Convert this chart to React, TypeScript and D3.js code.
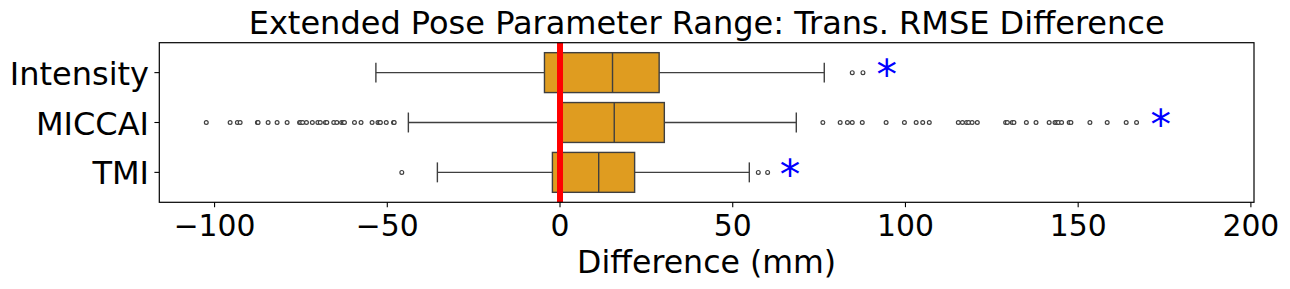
import { useEffect, useRef } from 'react';
import * as d3 from 'd3';

const categories = ['Intensity', 'MICCAI', 'TMI'];

// box stats: [whiskerLow, q1, median, q3, whiskerHigh]
const intensityStats = [-53.3, -4.5, 15.2, 28.7, 76.5];
const miccaiStats = [-43.9, 0.3, 15.7, 30.2, 68.4];
const tmiStats = [-35.5, -2.2, 11.2, 21.6, 54.8];

const intensityOutliers = [84.6, 87.7];
const miccaiOutliers = [
  -102.4, -95.5, -93.4, -92.6, -87.6, -87.4, -84.5, -81.9, -79.0, -75.4, -75.1, -74.5,
  -73.4, -71.7, -70.1, -69.4, -67.9, -67.5, -65.5, -64.6, -63.2, -62.7, -62.4, -59.5,
  -57.6, -54.4, -52.7, -52.2, -52.0, -50.3, -48.2, -48.0,
  76.1, 81.1, 83.2, 84.6, 87.5, 94.4, 99.7, 103.1, 105.0, 106.9, 115.3, 116.5, 117.7,
  118.3, 119.3, 120.8, 129.0, 129.5, 130.9, 131.4, 135.0, 137.8, 141.6, 143.3, 143.8,
  144.3, 145.2, 147.4, 147.9, 153.4, 158.4, 163.9, 166.9,
];
const tmiOutliers = [-45.8, 57.4, 60.1];

// position of the significance star per row
const starPositions = [94.6, 173.9, 66.6];

const xTicks = [-100, -50, 0, 50, 100, 150, 200];

const rows = [
  { name: categories[0], stats: intensityStats, outliers: intensityOutliers, star: starPositions[0] },
  { name: categories[1], stats: miccaiStats, outliers: miccaiOutliers, star: starPositions[1] },
  { name: categories[2], stats: tmiStats, outliers: tmiOutliers, star: starPositions[2] },
];

const App = () => {
  const svgRef = useRef<SVGSVGElement>(null);

  useEffect(() => {
    if (!svgRef.current) return;
    const width = 1290;
    const height = 289;
    const margin = { left: 159.3, right: 1254, top: 42.7, bottom: 202.3 };
    const font = 'DejaVu Sans, sans-serif';
    const boxFill = '#df9c20';
    const lineCol = '#3f3f3f';

    const svg = d3.select(svgRef.current).attr('width', width).attr('height', height);
    svg.selectAll('*').remove();

    const x = d3.scaleLinear().domain([-116, 200.9]).range([margin.left, margin.right]);
    const y = d3.scaleBand().domain(categories).range([margin.top, margin.bottom]).padding(0.2);
    const bw = y.bandwidth();

    const g = svg.append('g');

    rows.forEach(r => {
      const cy = y(r.name)! + bw / 2;
      const [lo, q1, med, q3, hi] = r.stats;
      // whiskers
      g.append('line').attr('x1', x(lo)).attr('x2', x(q1)).attr('y1', cy).attr('y2', cy)
        .attr('stroke', lineCol).attr('stroke-width', 1.4);
      g.append('line').attr('x1', x(q3)).attr('x2', x(hi)).attr('y1', cy).attr('y2', cy)
        .attr('stroke', lineCol).attr('stroke-width', 1.4);
      // caps
      [lo, hi].forEach(v => {
        g.append('line').attr('x1', x(v)).attr('x2', x(v))
          .attr('y1', cy - bw / 4).attr('y2', cy + bw / 4)
          .attr('stroke', lineCol).attr('stroke-width', 1.4);
      });
      // box
      g.append('rect').attr('x', x(q1)).attr('y', y(r.name)!).attr('width', x(q3) - x(q1)).attr('height', bw)
        .attr('fill', boxFill).attr('stroke', lineCol).attr('stroke-width', 1.4);
      g.append('line').attr('x1', x(med)).attr('x2', x(med)).attr('y1', y(r.name)!).attr('y2', y(r.name)! + bw)
        .attr('stroke', lineCol).attr('stroke-width', 1.4);
      // fliers
      g.selectAll(null).data(r.outliers).join('circle')
        .attr('cx', d => x(d)).attr('cy', cy).attr('r', 1.9)
        .attr('fill', 'white').attr('stroke', lineCol).attr('stroke-width', 1.2);
      // star
      const fs = 41;
      g.append('text').attr('x', x(r.star)).attr('y', cy + 16.5)
        .attr('text-anchor', 'middle').attr('font-family', font).attr('font-size', fs)
        .attr('fill', 'blue').text('*');
    });

    // red zero line
    g.append('line').attr('x1', x(0)).attr('x2', x(0)).attr('y1', margin.top).attr('y2', margin.bottom)
      .attr('stroke', 'red').attr('stroke-width', 6);

    // frame
    svg.append('rect').attr('x', margin.left).attr('y', margin.top)
      .attr('width', margin.right - margin.left).attr('height', margin.bottom - margin.top)
      .attr('fill', 'none').attr('stroke', 'black').attr('stroke-width', 1.2);

    // x axis
    const xa = svg.append('g');
    xTicks.forEach(t => {
      xa.append('line').attr('x1', x(t)).attr('x2', x(t)).attr('y1', margin.bottom).attr('y2', margin.bottom + 4.9)
        .attr('stroke', 'black').attr('stroke-width', 1.1);
      xa.append('text').attr('x', x(t)).attr('y', 235.7).attr('text-anchor', 'middle')
        .attr('font-family', font).attr('font-size', 29.8)
        .text(t < 0 ? '\u2212' + Math.abs(t) : String(t));
    });

    // y axis
    categories.forEach(c => {
      const cy = y(c)! + bw / 2;
      svg.append('line').attr('x1', margin.left - 4.9).attr('x2', margin.left).attr('y1', cy).attr('y2', cy)
        .attr('stroke', 'black').attr('stroke-width', 1.1);
      svg.append('text').attr('x', 149).attr('y', cy + 12).attr('text-anchor', 'end')
        .attr('font-family', font).attr('font-size', 32).text(c);
    });

    svg.append('text').attr('x', (margin.left + margin.right) / 2).attr('y', 272.7).attr('text-anchor', 'middle')
      .attr('font-family', font).attr('font-size', 31.6).text('Difference (mm)');

    svg.append('text').attr('x', (margin.left + margin.right) / 2).attr('y', 34).attr('text-anchor', 'middle')
      .attr('font-family', font).attr('font-size', 32)
      .text('Extended Pose Parameter Range: Trans. RMSE Difference');
  }, []);

  return (
    <div style={{ position: 'absolute', left: 0, top: 0, width: 1290, height: 289, background: 'white' }}>
      <svg ref={svgRef} style={{ display: 'block' }} />
    </div>
  );
};

export default App;
